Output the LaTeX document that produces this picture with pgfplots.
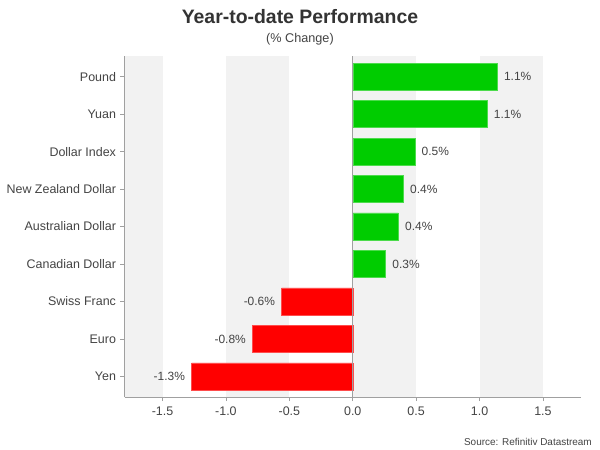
\documentclass[border=0pt]{standalone}
\usepackage{pgfplots}
\pgfplotsset{compat=1.18}
\usepackage{fontspec}
\setmainfont{Liberation Sans}
\definecolor{barg}{HTML}{00CC00}
\definecolor{barr}{HTML}{FF0000}
\definecolor{band}{HTML}{F2F2F2}
\definecolor{axisg}{HTML}{A0A0A0}
\definecolor{txt}{HTML}{444444}
\definecolor{ttl}{HTML}{333333}
\begin{document}
\begin{tikzpicture}
\useasboundingbox (0,0) rectangle (600bp,450bp);
\fill[white] (0,0) rectangle (600bp,450bp);
\node[font=\fontsize{19.5}{23}\selectfont\bfseries, text=ttl, anchor=base] at (300bp,426.5bp) {Year-to-date Performance};
\node[font=\fontsize{12.7}{14}\selectfont, text=txt, anchor=base] at (300bp,407bp) {(\% Change)};
\begin{axis}[
  at={(124.5bp,53bp)}, anchor=south west,
  scale only axis, width=456.5bp, height=341bp,
  xmin=-1.8, xmax=1.8, ymin=-0.55, ymax=8.55,
  xbar, bar shift=0pt, bar width=27bp,
  axis x line*=bottom, axis y line*=left,
  axis line style={axisg, line width=0.8pt, -},
  xtick={-1.5,-1,-0.5,0,0.5,1,1.5},
  ytick={0,...,8},
  yticklabels={Yen,Euro,Swiss Franc,Canadian Dollar,Australian Dollar,New Zealand Dollar,Dollar Index,Yuan,Pound},
  tick align=outside, major tick length=4bp,
  tick style={axisg, line width=0.8pt},
  /pgf/number format/fixed,
  /pgf/number format/fixed zerofill,
  /pgf/number format/precision=1,
  /pgf/number format/assume math mode=true,
  ticklabel style={font=\fontsize{12.5}{14}\selectfont, text=txt},
  xticklabel style={yshift=-2bp},
  yticklabel style={xshift=-1bp},
  point meta=x,
  nodes near coords={\pgfmathprintnumber{\pgfplotspointmeta}\%},
  nodes near coords style={font=\fontsize{12}{14}\selectfont, text=txt, inner xsep=6.5bp},
  clip=false,
]
\fill[band] (axis cs:-1.8,-0.55) rectangle (axis cs:-1.5,8.55);
\fill[band] (axis cs:-1.0,-0.55) rectangle (axis cs:-0.5,8.55);
\fill[band] (axis cs:0,-0.55) rectangle (axis cs:0.5,8.55);
\fill[band] (axis cs:1.0,-0.55) rectangle (axis cs:1.5,8.55);
\addplot[fill=barg, draw=barg!70!white, line width=0.5pt]
  coordinates {(1.14,8) (1.06,7) (0.49,6) (0.40,5) (0.36,4) (0.26,3)};
\addplot[fill=barr, draw=barr!70!white, line width=0.5pt]
  coordinates {(-0.56,2) (-0.79,1) (-1.27,0)};
\draw[axisg, line width=0.8pt] (axis cs:0,-0.55) -- (axis cs:0,8.55);
\end{axis}
\node[font=\fontsize{10}{12}\selectfont, text=txt, anchor=base east, inner sep=0pt] at (592bp,5bp) {Source: Refinitiv Datastream};
\end{tikzpicture}
\end{document}
